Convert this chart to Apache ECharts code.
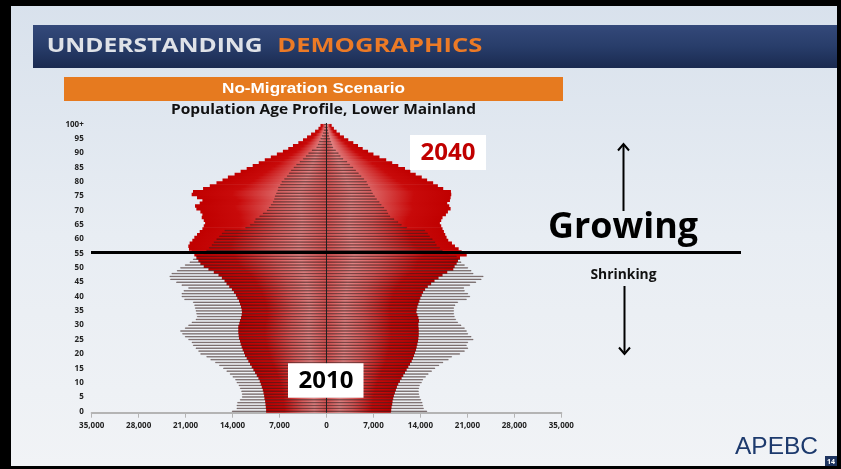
<!DOCTYPE html>
<html><head><meta charset="utf-8">
<script src="https://cdn.jsdelivr.net/npm/echarts@6/dist/echarts.min.js"></script>
<style>html,body{margin:0;padding:0;background:#fff}#c{width:841px;height:469px}</style>
</head><body><div id="c"></div>
<script>
const ages = ['0','1','2','3','4','5','6','7','8','9','10','11','12','13','14','15','16','17','18','19',
 '20','21','22','23','24','25','26','27','28','29','30','31','32','33','34','35','36','37','38','39',
 '40','41','42','43','44','45','46','47','48','49','50','51','52','53','54','55','56','57','58','59',
 '60','61','62','63','64','65','66','67','68','69','70','71','72','73','74','75','76','77','78','79',
 '80','81','82','83','84','85','86','87','88','89','90','91','92','93','94','95','96','97','98','99','100+'];

const male2010 = [14100,13400,13400,13300,12900,12600,12600,12700,12900,13100,
 13400,13600,14000,14400,14900,15400,16000,16600,17300,17900,
 18800,19100,19500,19900,20100,20600,21100,21500,21800,21100,
 20600,20100,19500,19300,19400,19500,19600,19700,19900,21200,
 21600,21600,21300,20600,21600,22400,23300,23400,23100,22300,
 21800,21100,20400,19900,19400,18400,17900,17500,17100,16800,
 16400,16000,15600,15200,12100,11400,10800,10600,10000,9500,
 8900,8600,8300,8000,7800,7700,7500,7300,7200,6900,
 6700,6300,5900,5600,5300,4900,4500,4000,3500,3100,
 2700,2200,1500,1300,1100,900,700,550,420,320,350];

const female2010 = [15000,14500,14400,14300,14100,13900,13800,13750,13800,13900,
 14200,14400,14800,15200,15700,16200,16800,17400,18200,18700,
 19900,20600,21100,20900,21100,21900,21600,21100,20900,20600,
 20100,19600,19300,19100,19000,19000,19000,19200,19600,20900,
 21400,21100,20600,20500,21400,22300,23100,23400,21900,21600,
 21100,20600,20100,19900,19400,18200,17300,16900,16400,16200,
 15800,15400,15100,14700,12000,11200,10700,10100,9500,9200,
 9000,8600,8200,7900,7500,7200,6900,6700,6500,6200,
 6000,5600,5200,4800,4400,4000,3500,3100,2500,2100,
 1800,1400,1000,850,700,550,420,330,250,180,120];

const male2040 = [9000,9000,9050,9100,9150,9250,9300,9400,9500,9650,
 9800,9950,10150,10400,10650,10900,11150,11400,11650,11900,
 12150,12300,12500,12650,12800,12900,13050,13100,13150,13150,
 13150,13000,12900,12750,12650,12600,12650,12750,12900,13050,
 13300,13500,13800,14100,14500,14900,15200,15600,16100,16800,
 17600,18300,18800,19100,19400,19700,20100,20500,20600,20400,
 20000,19700,19300,18900,18500,18300,18100,18300,18600,18500,
 18800,19400,19600,18900,18500,19300,20100,19900,18400,17400,
 16400,15500,14700,13700,12800,11900,11000,10100,9200,8300,
 7400,6500,5700,5000,4200,3500,2900,2300,1700,1200,900];

const female2040 = [9600,9650,9700,9800,9850,9950,10050,10200,10350,10500,
 10700,10950,11200,11450,11700,11950,12200,12450,12700,12900,
 13050,13200,13350,13450,13550,13650,13700,13750,13750,13750,
 13700,13700,13800,13700,13550,13400,13450,13550,13700,13850,
 14000,14200,14400,14700,15100,15600,16100,16700,17300,18000,
 18900,19100,19400,19600,19900,20900,20150,19700,19150,18700,
 18150,17900,17700,17500,17300,17100,16900,17100,17300,17800,
 18100,18500,18300,18000,18400,18500,18600,18550,17400,16600,
 15900,15000,14200,13300,12500,11700,10700,9800,8900,7900,
 7000,6200,5400,4700,4000,3250,2600,2000,1500,1100,770];

const titleText = 'No-Migration Scenario';
const subtitleText = 'Population Age Profile, Lower Mainland';

const mctx = document.createElement('canvas').getContext('2d');
function fitScale(text, font, w) { mctx.font = font; return w / mctx.measureText(text).width; }

const OS = '"Open Sans", "DejaVu Sans", sans-serif';

const redStops = [['#c00000',0],['#c80a0a',0.3],['#d95a5a',0.6],['#e08282',0.8],['#d65050',1]];
const redLeft = {type:'linear', x:0, y:0, x2:1, y2:0, colorStops: redStops.map(s => ({offset:s[1], color:s[0]}))};
const redRight = {type:'linear', x:0, y:0, x2:1, y2:0, colorStops: redStops.map(s => ({offset:1 - s[1], color:s[0]})).reverse()};
const greyFill = {type:'linear', x:0, y:0, x2:0, y2:1, colorStops:[
  {offset:0, color:'#fbfbfb'}, {offset:0.6, color:'#ededed'}, {offset:1, color:'#c2c2c2'}]};
const glassFill = {type:'linear', x:0, y:0, x2:0, y2:1, colorStops:[
  {offset:0, color:'rgba(255,255,255,0.28)'}, {offset:0.6, color:'rgba(255,255,255,0.12)'}, {offset:1, color:'rgba(0,0,0,0.06)'}]};

const greyStyle = {color:greyFill, borderWidth:0};
const glassStyle = {color:glassFill, borderColor:'rgba(45,20,20,0.72)', borderWidth:0.6};

const hdr1 = 'UNDERSTANDING', hdr2 = 'DEMOGRAPHICS';
const hdrFont = 'bold 19px ' + OS;

const bar = (name, data, style, z, extra) => Object.assign({name, type:'bar', data, barCategoryGap:'0%', barGap:'-100%', itemStyle: style, z}, extra || {});

const chart = echarts.init(document.getElementById('c'), null, {renderer:'canvas'});
chart.setOption({
  animation: false,
  grid: {left: 91.7, right: 279.7, top: 123, bottom: 56.3, containLabel: false},
  xAxis: {
    type: 'value', min: -35000, max: 35000, interval: 7000,
    splitLine: {show: false},
    axisLine: {show: true, lineStyle: {color: '#b4b4b4', width: 2}},
    axisTick: {show: true, length: 5, lineStyle: {color: '#b4b4b4', width: 1}},
    axisLabel: {margin: 9, color: '#222', fontFamily: OS, fontWeight: 'bold', fontSize: 8,
      formatter: v => Math.abs(v).toLocaleString('en-US')}
  },
  yAxis: {
    type: 'category', data: ages,
    axisLine: {show: false, onZero: false}, axisTick: {show: false},
    axisLabel: {interval: 4, margin: 8, color: '#222', fontFamily: OS, fontWeight: 'bold', fontSize: 8}
  },
  series: [
    bar('2010 L', male2010.map(v => -v), greyStyle, 2),
    bar('2010 R', female2010, greyStyle, 2),
    bar('2040 L', male2040.map(v => -v), {color: redLeft}, 3, {barWidth: 3.5}),
    bar('2040 R', female2040, {color: redRight}, 3, {barWidth: 3.5}),
    bar('2010 L outline', male2010.map(v => -v), glassStyle, 4),
    bar('2010 R outline', female2010, glassStyle, 4, {
      markLine: {silent:true, symbol:['none','none'], label:{show:false}, lineStyle:{color:'#222', width:1, type:'solid'}, data:[{xAxis:0}]}})
  ],
  graphic: [
    {type:'rect', z:-100, silent:true, shape:{x:0, y:0, width:841, height:469},
      style:{fill:{type:'linear', x:0, y:0, x2:0, y2:1, colorStops:[{offset:0,color:'#d8e1ec'},{offset:0.5,color:'#e8edf3'},{offset:1,color:'#f1f3f6'}]}}},
    // frame
    {type:'rect', z:200, silent:true, shape:{x:0, y:0, width:841, height:6}, style:{fill:'#000'}},
    {type:'rect', z:200, silent:true, shape:{x:0, y:0, width:11, height:469}, style:{fill:'#000'}},
    {type:'rect', z:200, silent:true, shape:{x:837, y:0, width:4, height:469}, style:{fill:'#000'}},
    {type:'rect', z:200, silent:true, shape:{x:0, y:466, width:841, height:3}, style:{fill:'#000'}},
    // header
    {type:'rect', z:10, silent:true, shape:{x:33, y:25, width:808, height:43},
      style:{fill:{type:'linear', x:0, y:0, x2:0, y2:1, colorStops:[{offset:0,color:'#34497a'},{offset:0.5,color:'#283d6a'},{offset:1,color:'#1a2a50'}]}}},
    {type:'text', z:11, silent:true, x:46.7, y:47, scaleX: fitScale(hdr1, hdrFont, 216),
      style:{text:hdr1, fill:'#dfe2e8', fontFamily:OS, fontWeight:'bold', fontSize:19, align:'left', verticalAlign:'middle'}},
    {type:'text', z:11, silent:true, x:277.3, y:47, scaleX: fitScale(hdr2, hdrFont, 205),
      style:{text:hdr2, fill:'#ec7a26', fontFamily:OS, fontWeight:'bold', fontSize:19, align:'left', verticalAlign:'middle'}},
    // orange banner
    {type:'rect', z:10, silent:true, shape:{x:64, y:77, width:499, height:24}, style:{fill:'#e67a1f'}},
    {type:'text', z:11, silent:true, x:313.5, y:89, scaleX: fitScale(titleText, 'bold 15px "Liberation Sans"', 183),
      style:{text:titleText, fill:'#ffffff', fontFamily:'"Liberation Sans", Arial, sans-serif', fontWeight:'bold', fontSize:15, align:'center', verticalAlign:'middle'}},
    {type:'text', z:11, silent:true, x:323.5, y:110.5, scaleX: fitScale(subtitleText, 'bold 14px ' + OS, 305),
      style:{text:subtitleText, fill:'#111', fontFamily:OS, fontWeight:'bold', fontSize:14, align:'center', verticalAlign:'middle'}},
    // year labels
    {type:'rect', z:20, silent:true, shape:{x:410, y:135, width:76, height:35}, style:{fill:'#fff'}},
    {type:'text', z:21, silent:true, x:448, y:153, style:{text:'2040', fill:'#c00000', fontFamily:OS, fontWeight:'bold', fontSize:24, align:'center', verticalAlign:'middle'}},
    {type:'rect', z:20, silent:true, shape:{x:288, y:363.3, width:75.5, height:34.5}, style:{fill:'#fff'}},
    {type:'text', z:21, silent:true, x:326, y:381, style:{text:'2010', fill:'#000', fontFamily:OS, fontWeight:'bold', fontSize:24, align:'center', verticalAlign:'middle'}},
    // growing / shrinking
    {type:'line', z:30, silent:true, shape:{x1:91, y1:252.5, x2:741, y2:252.5}, style:{stroke:'#000', lineWidth:3}},
    {type:'text', z:21, silent:true, x:623, y:228, scaleX: fitScale('Growing', 'bold 35px ' + OS, 150),
      style:{text:'Growing', fill:'#000', fontFamily:OS, fontWeight:'bold', fontSize:35, align:'center', verticalAlign:'middle'}},
    {type:'text', z:21, silent:true, x:623.5, y:275, scaleX: fitScale('Shrinking', 'bold 14px ' + OS, 66),
      style:{text:'Shrinking', fill:'#111', fontFamily:OS, fontWeight:'bold', fontSize:14, align:'center', verticalAlign:'middle'}},
    {type:'line', z:21, silent:true, shape:{x1:623.5, y1:211, x2:623.5, y2:145}, style:{stroke:'#000', lineWidth:2}},
    {type:'polyline', z:21, silent:true, shape:{points:[[618,150.5],[623.5,144],[629,150.5]]}, style:{stroke:'#000', lineWidth:2, fill:null}},
    {type:'line', z:21, silent:true, shape:{x1:624.5, y1:286, x2:624.5, y2:352}, style:{stroke:'#000', lineWidth:2}},
    {type:'polyline', z:21, silent:true, shape:{points:[[619,347.5],[624.5,354],[630,347.5]]}, style:{stroke:'#000', lineWidth:2, fill:null}},
    // logo & page number
    {type:'text', z:21, silent:true, x:776.5, y:447, scaleX: fitScale('APEBC', '24px "Liberation Sans"', 83),
      style:{text:'APEBC', fill:'#1d3a6d', fontFamily:'"Liberation Sans", Arial, sans-serif', fontSize:24, align:'center', verticalAlign:'middle'}},
    {type:'rect', z:21, silent:true, shape:{x:825, y:456, width:12, height:10}, style:{fill:'#1f3560'}},
    {type:'text', z:22, silent:true, x:831, y:461.5, style:{text:'14', fill:'#fff', fontFamily:OS, fontWeight:'bold', fontSize:7, align:'center', verticalAlign:'middle'}}
  ]
});
</script>
</body></html>
